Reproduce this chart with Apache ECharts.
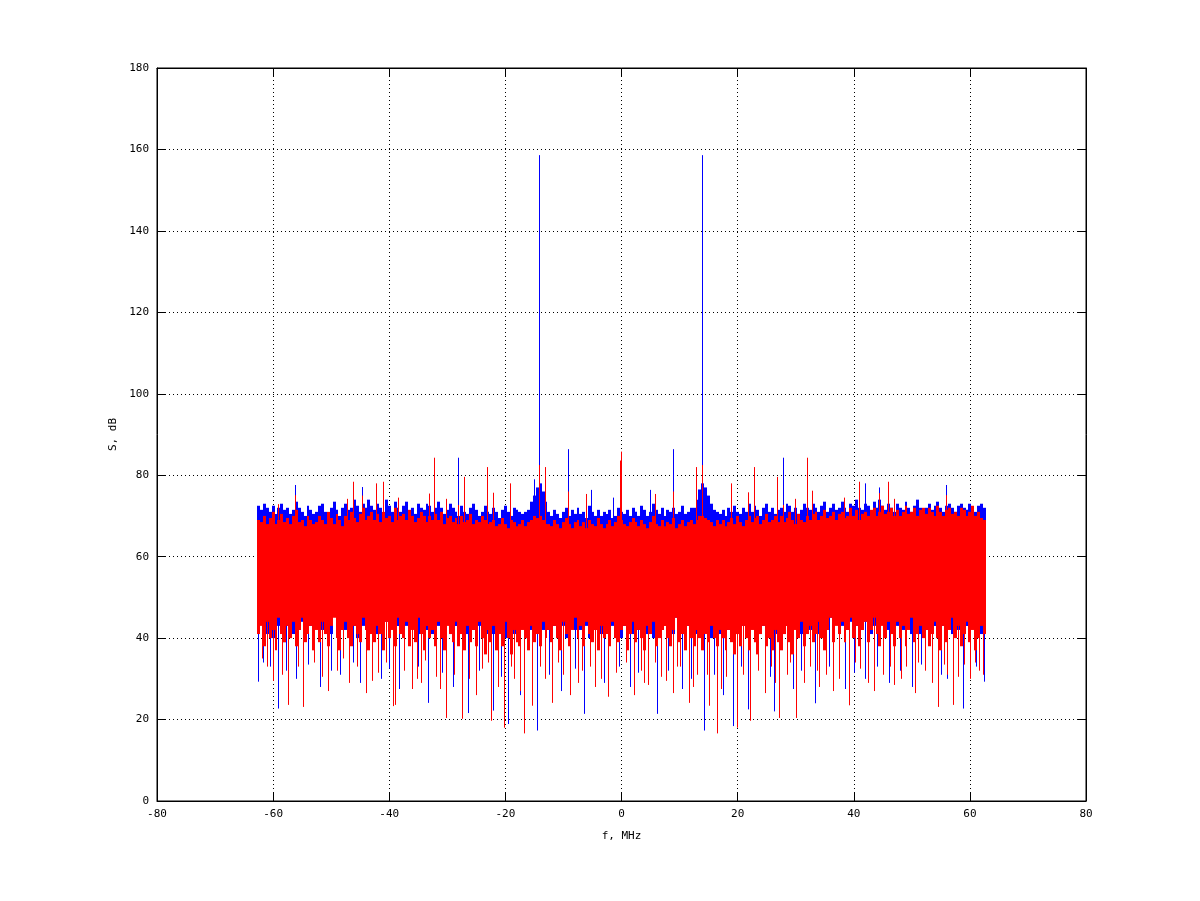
<!DOCTYPE html>
<html>
<head>
<meta charset="utf-8">
<script src="https://cdn.jsdelivr.net/npm/echarts@6/dist/echarts.min.js"></script>
<style>html,body{margin:0;padding:0;background:#fff}#c{width:1200px;height:901px}</style>
</head>
<body>
<div id="c"></div>
<script>
// Frequency bins: centre of first bin and bin step (MHz)
const freqStart = -62.5;
const freqStep = 0.5;
const xTicks = [-80, -60, -40, -20, 0, 20, 40, 60, 80];
const yTicks = [0, 20, 40, 60, 80, 100, 120, 140, 160, 180];

// Blue trace: per-bin maximum (dB)
const blueHi = [
72.5,71.5,73,72,71,72.5,70.5,72,73,71.5,
72,70.5,71.5,73.5,72,71,70,72.5,71.5,70.5,
71,72.5,73,71,70.5,72,73.5,71.5,70,72,
73,71.5,72,74,72.5,71,73,72,74,72.5,
71.5,73,72,70.5,74,72.5,71,73.5,72,71,
72.5,73.5,71,72,70.5,73,72,71.5,73,72.5,
71,72,73.5,72,70.5,71.5,73,72,71,70,
72.5,71,70.5,72,73,71.5,70,71,72.5,71,
70.5,72,71,69.5,71.5,72.5,71,70,72,71.5,
71,70.5,71,71.5,73.5,75,77,78,76,73.5,
71,70,71.5,70.5,69.5,71,72,70,71.5,70.5,
72,70.5,71,69.5,72.5,71,70,71.5,70,71,
70.5,71.5,69.5,70,72,71,70.5,71.5,70,72,
71,70,72.5,71.5,70,71,73,71.5,70.5,72,
70,71.5,71,72,70.5,71,72.5,70.5,71,72,
72,74,76.5,78,77,75,73,71.5,71,70.5,
71.5,70,72,71,72.5,71,70.5,72,71,73,
71,72.5,71.5,70,72,73,71,72,70.5,71.5,
72,71,73,72.5,71,72,70.5,71.5,73,72,
71.5,73,72,71,72.5,73.5,71,72,73,71.5,
72,73.5,72,71,73,72.5,74,72,71.5,73,
72.5,71,73.5,72,74,72.5,71.5,73,72,71,
73,72,71.5,73.5,72,71,72.5,74,72,71.5,
72,73,71.5,72.5,73.5,72,71,72.5,73,72,
71,72.5,73,72,71.5,73,72,71,72.5,73,
72];
// Blue trace: per-bin minimum (dB)
const blueLo = [
42,46,44,41,45,40,44,43,46,39,
43,45,41,46,42,44,47,41,43,45,
46,43,42,45,44,41,46,43,45,42,
42,46,44,43,40,47,43,42,46,45,
45,41,46,43,44,40,46,44,43,42,
44,43,40,47,45,41,43,46,42,45,
41,46,43,40,45,44,41,46,43,45,
46,43,41,45,42,44,43,40,46,41,
43,41,45,42,46,40,45,43,41,46,
45,43,40,46,42,44,43,46,42,45,
42,46,43,41,45,43,40,45,43,42,
46,42,45,43,40,46,42,44,41,45,
41,45,43,46,44,40,43,45,46,41,
45,42,46,43,41,45,40,46,44,42,
43,46,44,41,45,43,46,42,43,45,
44,41,45,43,46,44,40,45,43,41,
40,45,42,46,43,41,45,43,46,44,
43,46,44,41,43,45,42,44,41,45,
46,41,43,45,42,44,46,41,45,42,
42,45,46,41,45,43,42,45,43,44,
46,43,45,42,44,46,43,45,42,44,
44,41,43,46,43,44,46,42,45,43,
43,45,42,44,46,41,45,43,41,45,
42,44,46,43,41,45,43,46,43,41,
45,42,44,46,43,40,43,44,46,41,
43];
// Red trace: per-bin maximum (dB)
const redHi = [
69,68.5,70,68,69.5,71,68,69,70.5,68.5,
69.5,68,70,71.5,68.5,69,67.5,70,69,68,
68.5,70,69,68,71,69.5,68,70.5,69,67.5,
70,69,71,69.5,68.5,70.5,72,69,70,71,
69,70.5,68.5,71,69.5,70,68.5,72,69,70,
70.5,69,71.5,70,68.5,69.5,71,70,68.5,70,
69,70.5,69,71,68,69.5,70,68.5,69.5,68,
70,68.5,69,70.5,68,69,68.5,70,69,68,
68.5,69,67.5,68,69.5,68,67,69,68.5,67.5,
68,69,67.5,68.5,69,70,69.5,70,69,68,
68,67.5,69,68,67,68.5,69.5,68,67,68.5,
69,67.5,68.5,67,69,68,67.5,69.5,68,67,
68,69,67.5,68.5,70,69,68,67.5,68.5,69.5,
68.5,67.5,69,68,67,68.5,70,68,67.5,69,
67.5,68.5,68,69.5,67,68,69,67.5,68.5,69,
68,69,70,70,69.5,69,68.5,67.5,69,68,
69,67.5,68.5,69.5,68,70,68.5,67.5,69,70,
68.5,69.5,70,68,69,70.5,68.5,69,70,68.5,
70,68.5,69.5,71,69,68,70.5,69,68.5,70,
69,70.5,71,69,70,71.5,69.5,70,71,69,
70.5,71,69.5,70,72,70,71.5,69,70.5,71,
70,71.5,72,70,71,72.5,70.5,71,72,70,
71.5,70,71,72.5,70.5,71,72,70,71.5,72,
70.5,72,71,70,72.5,71,70,71.5,72,70.5,
71,70,72,71.5,70,71,72.5,70,71,69.5,
69];
// Red trace: per-bin minimum (dB)
const redLo = [
41,43,38,44,40,42,37,45,41,39,
43,40,44,38,42,45,39,41,43,37,
42,39,44,41,38,43,45,40,37,42,
44,40,38,43,41,39,45,42,37,41,
39,43,41,37,44,40,42,38,45,41,
40,44,38,42,39,45,41,37,43,40,
42,38,44,40,37,43,41,39,44,38,
41,37,43,39,42,38,44,40,36,42,
39,43,37,41,38,44,40,36,42,39,
38,42,40,37,43,39,41,38,44,40,
42,39,43,40,37,44,41,38,42,45,
40,43,38,44,41,39,42,37,43,40,
41,38,44,40,39,42,43,37,41,44,
39,42,40,37,43,41,44,38,40,42,
43,40,38,42,45,39,41,37,43,40,
38,42,40,37,41,39,43,40,38,42,
40,37,42,39,36,41,38,43,40,37,
42,39,36,41,43,38,40,37,42,39,
37,41,43,39,36,42,40,44,38,41,
43,39,41,44,40,37,42,45,39,43,
41,44,39,42,45,40,43,38,42,44,
39,42,45,41,38,43,40,44,41,38,
44,40,43,38,42,45,39,41,43,40,
42,38,41,44,40,37,43,39,42,45,
40,43,38,41,44,39,42,37,40,43,
41];

// Narrow single-line excursions: [f MHz, level dB]
const blueUp = [
[-56.2,77.6],[-44.7,77.1],[-28.2,84.3],[-15,79],[-14.16,158.6],[-9.2,86.4],[-5.2,76.4],[-1.5,74.5],
[4.9,76.4],[8.87,86.4],[13.93,158.6],[27.8,84.3],[41.9,78],[44.4,77],[55.9,77.6]];
const redUp = [
[-59.2,72.9],[-56.2,75.1],[-47.3,74.2],[-46.3,78.4],[-44.7,75],[-42.2,78],[-41.1,78.4],[-38.5,74.5],
[-33.1,75.5],[-32.3,84.3],[-30.2,74.2],[-28.2,72.7],[-27.1,79.6],[-23.2,82],[-22.1,75.7],[-19.2,78],
[-14.2,82.5],[-13.1,82],[-9.2,76],[-6.1,75.4],[-0.3,83.6],[-0.1,85.8],[5.8,75.4],[8.9,76],
[12.8,82],[13.9,82.5],[18.9,78],[21.8,75.8],[22.8,82],[26.8,79.6],[27.8,72.7],[29.9,74.2],
[31.95,84.3],[32.8,76.2],[38.3,74.5],[40.9,78.4],[44.4,75.6],[45.9,78.4],[46.9,74.2],[55.9,75.1]];
const blueDown = [
[-62.6,29.3],[-61.8,34],[-60.5,33],[-59.2,22.7],[-57.7,32],[-56,30],[-54,33.5],[-52,28],[-50,32],
[-48.5,31],[-46.2,34],[-45,29],[-43,33],[-41.5,30],[-40,32.5],[-38.3,27.5],[-35,33],[-33.3,24.1],
[-31,31.5],[-29,28],[-26.4,21.6],[-24.5,32],[-22.1,22.2],[-20.8,30.5],[-19.5,18.9],[-17.5,26],
[-14.5,17.3],[-12.5,31],[-10.5,27],[-8,32.5],[-6.45,21.4],[-3,29],[-0.5,33],[1.5,28],[2.8,31.5],
[6.2,21.4],[8,32],[10.5,27.5],[12,30],[14.2,17.3],[16,31],[17.5,26],[19.2,18.4],[20.5,33],
[21.8,22.5],[25.5,30.5],[26.2,22],[29.5,27.5],[31,32],[33.3,24],[35.8,33],[38.5,27.5],[40,31.5],
[42,30],[44,33],[46,29],[48,32],[50,28],[51.5,33.5],[53.5,31],[55,31],[56,30],[58.8,22.7],
[60,32.5],[61,33],[62.5,29.3]];
const redDown = [
[-62,35],[-61,33],[-60,29.5],[-58.5,31],[-57.4,23.6],[-55.8,33],[-54.8,23.1],[-53,34],[-51.5,30.5],
[-50.5,27],[-49,32],[-48,35],[-47,29],[-45.5,33],[-44,26.5],[-43,29.5],[-42,31.5],[-40.5,34],
[-39.3,23.3],[-39.0,23.6],[-37.5,32],[-36,27.5],[-35.2,30],[-34.5,29],[-33.8,34.5],[-32,30.5],
[-31.2,27.5],[-30.2,20.4],[-28.8,31],[-27.5,20.2],[-26.2,30],[-25,26],[-24,32.5],[-23,34],
[-22.5,19.7],[-21.2,28],[-20.2,18],[-19,33],[-18.5,30],[-17.5,27],[-16.8,16.6],[-15.5,23.4],
[-14,33],[-13.2,30],[-12,24.1],[-11,34],[-10,31],[-8.9,26],[-7.5,29],[-6.8,32],[-5.5,33],
[-4.5,28],[-3.5,30],[-2.3,25.6],[-1,31.5],[0.8,34],[2.1,26],[3.3,32],[3.9,29],[4.5,28.5],
[5.7,34],[6.8,30.5],[7.6,29.5],[8.9,26.5],[9.5,33],[10,33],[11.6,24.1],[12.4,28],[13,31],
[14.8,31],[15.1,23.4],[16.4,16.6],[17.2,27.5],[18,30.5],[19.9,18],[21,31],[22.1,19.7],[23.5,32],
[24.8,26.5],[25.8,33],[26.5,29],[27.1,20.4],[28.5,31],[29,34],[30.1,20.4],[31.5,29],[32.5,33],
[33.7,32],[34,28],[35.2,31],[36.5,27],[37.5,30],[39.2,23.5],[40.3,34],[41,32.5],[42.5,29],
[43.5,27],[45,31],[46.2,33],[47,28.5],[48.2,30],[49,33],[50.6,26.5],[51,34],[52.3,32],[53.5,29],
[54.5,23.1],[55.5,33.5],[56,31],[57.1,23.6],[58,30.5],[59,33.5],[60,30],[60.8,34],[61.5,32],
[62.2,31]];

const BLUE = '#0000ff', RED = '#ff0000';
const FONT = 'DejaVu Sans Mono';

function bandData(lo, hi) {
  return hi.map((h, i) => [freqStart + i * freqStep, lo[i], h]);
}
function spikeData(list, base) {
  return list.map(p => [p[0], base, p[1]]);
}
function bandRender(color) {
  return function (params, api) {
    const f = api.value(0), lo = api.value(1), hi = api.value(2);
    const a = api.coord([f - freqStep / 2, hi]);
    const b = api.coord([f + freqStep / 2, lo]);
    const x1 = Math.round(a[0]), x2 = Math.round(b[0]);
    return { type: 'rect', shape: { x: x1, y: a[1], width: Math.max(1, x2 - x1), height: b[1] - a[1] },
             style: { fill: color } };
  };
}
function spikeRender(color) {
  return function (params, api) {
    const f = api.value(0);
    const a = api.coord([f, api.value(1)]);
    const b = api.coord([f, api.value(2)]);
    const x = Math.round(a[0]) + 0.5;
    return { type: 'line', shape: { x1: x, y1: a[1], x2: x, y2: b[1] },
             style: { stroke: color, lineWidth: 1 } };
  };
}
function custom(name, data, render) {
  return { type: 'custom', name, data, renderItem: render, encode: { x: 0, y: [1, 2] }, silent: true, clip: true };
}

const axisCommon = {
  type: 'value',
  axisLine: { show: true, onZero: false, lineStyle: { color: '#000', width: 1 } },
  axisTick: { show: true, inside: true, length: 9, lineStyle: { color: '#000', width: 1 } },
  axisLabel: { color: '#000', fontFamily: FONT, fontSize: 11, margin: 8 },
  splitLine: { show: true, lineStyle: { color: '#000', width: 1, type: [1, 3] } }
};

const chart = echarts.init(document.getElementById('c'), null, { renderer: 'canvas' });
chart.setOption({
  animation: false,
  backgroundColor: '#fff',
  grid: { left: 157, right: 114, top: 68, bottom: 100, show: true, borderColor: '#000', borderWidth: 1, backgroundColor: 'transparent' },
  xAxis: [
    Object.assign({}, axisCommon, { min: xTicks[0], max: xTicks[xTicks.length - 1], interval: xTicks[1] - xTicks[0], position: 'bottom',
      name: 'f, MHz', nameLocation: 'middle', nameGap: 30, nameTextStyle: { color: '#000', fontFamily: FONT, fontSize: 11 } }),
    Object.assign({}, axisCommon, { min: xTicks[0], max: xTicks[xTicks.length - 1], interval: xTicks[1] - xTicks[0], position: 'top',
      axisLabel: { show: false }, splitLine: { show: false } })
  ],
  yAxis: [
    Object.assign({}, axisCommon, { min: yTicks[0], max: yTicks[yTicks.length - 1], interval: yTicks[1] - yTicks[0], position: 'left',
      name: 'S, dB', nameLocation: 'middle', nameGap: 33, nameRotate: 90, nameTextStyle: { color: '#000', fontFamily: FONT, fontSize: 11 } }),
    Object.assign({}, axisCommon, { min: yTicks[0], max: yTicks[yTicks.length - 1], interval: yTicks[1] - yTicks[0], position: 'right',
      axisLabel: { show: false }, splitLine: { show: false } })
  ],
  series: [
    custom('blue', bandData(blueLo, blueHi), bandRender(BLUE)),
    custom('blueUp', spikeData(blueUp, 60), spikeRender(BLUE)),
    custom('blueDown', spikeData(blueDown, 50), spikeRender(BLUE)),
    custom('red', bandData(redLo, redHi), bandRender(RED)),
    custom('redUp', spikeData(redUp, 60), spikeRender(RED)),
    custom('redDown', spikeData(redDown, 50), spikeRender(RED))
  ]
});
</script>
</body>
</html>
